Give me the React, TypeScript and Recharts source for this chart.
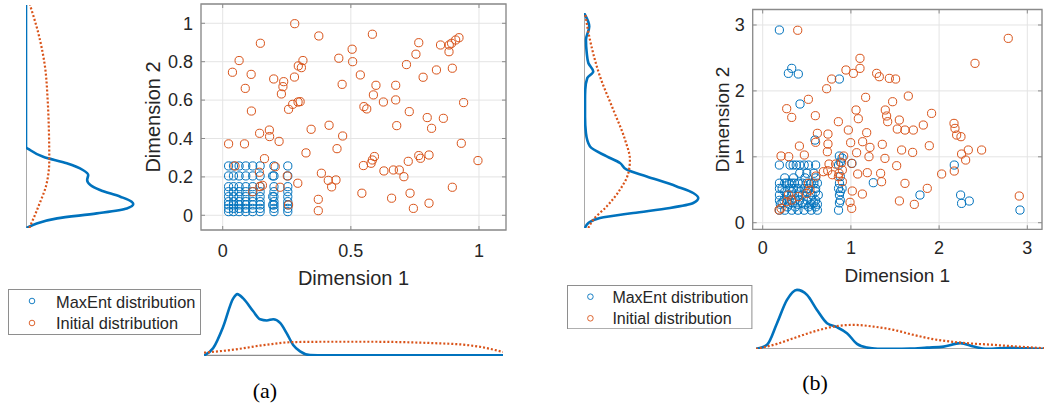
import React from 'react';
import {
  ScatterChart, Scatter, LineChart, Line, XAxis, YAxis, CartesianGrid,
  ReferenceLine, ReferenceArea, Legend, Label,
} from 'recharts';

const BLUE = '#0072BD';
const ORANGE = '#D95319';
const INK = '#262626';
const BOX = '#8a8a8a';
const FONT = '"Liberation Sans", Arial, Helvetica, sans-serif';
const SERIF = '"Liberation Serif", "Times New Roman", serif';

const SERIES_NAMES = ['MaxEnt distribution', 'Initial distribution'];
const AXIS_LABELS = ['Dimension 1', 'Dimension 2'];
const PANEL_CAPTIONS = ['(a)', '(b)'];

// ---------- Panel (a): scatter points [dim1, dim2] ----------
const aMaxEnt: [number, number][] = [
  [0.023, 0.257], [0.042, 0.257], [0.064, 0.257], [0.09, 0.257], [0.117, 0.257], [0.146, 0.257], [0.2, 0.257], [0.254, 0.257],
  [0.023, 0.205], [0.042, 0.205], [0.064, 0.205], [0.09, 0.205], [0.117, 0.205], [0.146, 0.205], [0.2, 0.205], [0.254, 0.205],
  [0.023, 0.149], [0.042, 0.149], [0.064, 0.149], [0.09, 0.149], [0.117, 0.149], [0.146, 0.149], [0.2, 0.149], [0.254, 0.149],
  [0.023, 0.123], [0.042, 0.123], [0.064, 0.123], [0.09, 0.123], [0.117, 0.123], [0.146, 0.123], [0.2, 0.123], [0.254, 0.123],
  [0.023, 0.097], [0.042, 0.097], [0.064, 0.097], [0.09, 0.097], [0.117, 0.097], [0.146, 0.097], [0.2, 0.097], [0.254, 0.097],
  [0.023, 0.071], [0.042, 0.071], [0.064, 0.071], [0.09, 0.071], [0.117, 0.071], [0.146, 0.071], [0.2, 0.071], [0.254, 0.071],
  [0.023, 0.054], [0.042, 0.054], [0.064, 0.054], [0.09, 0.054], [0.117, 0.054], [0.146, 0.054], [0.2, 0.054], [0.254, 0.054],
  [0.023, 0.036], [0.042, 0.036], [0.064, 0.036], [0.09, 0.036], [0.117, 0.036], [0.146, 0.036], [0.2, 0.036], [0.254, 0.036],
  [0.023, 0.019], [0.042, 0.019], [0.064, 0.019], [0.09, 0.019], [0.117, 0.019], [0.146, 0.019], [0.2, 0.019], [0.254, 0.019],
  [0.195, 0.205], [0.195, 0.097], [0.195, 0.054],
];

const aInitial: [number, number][] = [
  [0.023, 0.372], [0.038, 0.745], [0.064, 0.806], [0.088, 0.661], [0.111, 0.734], [0.112, 0.543], [0.085, 0.372],
  [0.147, 0.896], [0.144, 0.427], [0.182, 0.444], [0.183, 0.41], [0.163, 0.295], [0.199, 0.71], [0.238, 0.696],
  [0.235, 0.67], [0.229, 0.632], [0.22, 0.385], [0.281, 0.998], [0.28, 0.72], [0.295, 0.778], [0.313, 0.806],
  [0.307, 0.769], [0.273, 0.578], [0.257, 0.552], [0.294, 0.59], [0.302, 0.592], [0.293, 0.167], [0.325, 0.325],
  [0.345, 0.448], [0.375, 0.934], [0.385, 0.219], [0.373, 0.083], [0.373, 0.024], [0.412, 0.182], [0.425, 0.148],
  [0.442, 0.184], [0.446, 0.347], [0.415, 0.469], [0.468, 0.413], [0.453, 0.818], [0.466, 0.682], [0.505, 0.865],
  [0.507, 0.8], [0.537, 0.731], [0.551, 0.566], [0.562, 0.554], [0.584, 0.943], [0.598, 0.677], [0.588, 0.627],
  [0.627, 0.59], [0.675, 0.677], [0.675, 0.601], [0.679, 0.467], [0.717, 0.785], [0.754, 0.839], [0.765, 0.899],
  [0.782, 0.719], [0.728, 0.54], [0.798, 0.509], [0.815, 0.453], [0.834, 0.757], [0.85, 0.887], [0.884, 0.887],
  [0.893, 0.896], [0.883, 0.852], [0.909, 0.913], [0.922, 0.925], [0.896, 0.766], [0.861, 0.505], [0.94, 0.587],
  [0.931, 0.375], [0.996, 0.285], [0.896, 0.146], [0.805, 0.063], [0.744, 0.036], [0.731, 0.115], [0.659, 0.089],
  [0.724, 0.281], [0.689, 0.236], [0.666, 0.236], [0.707, 0.201], [0.629, 0.231], [0.765, 0.311], [0.772, 0.297],
  [0.805, 0.314], [0.592, 0.306], [0.584, 0.288], [0.579, 0.271], [0.549, 0.259], [0.543, 0.115],
  [0.048, 0.257], [0.143, 0.224], [0.205, 0.253], [0.252, 0.205], [0.145, 0.15], [0.155, 0.156], [0.117, 0.123],
  [0.224, 0.146], [0.257, 0.054],
];

// ---------- Panel (a): marginal densities (relative units) ----------
const aDim1MaxEnt: [number, number][] = [
  [-0.073, 0], [-0.037, 0.12], [0.002, 0.47], [0.041, 0.93], [0.057, 1.0], [0.08, 0.93], [0.119, 0.72], [0.146, 0.59],
  [0.172, 0.57], [0.197, 0.59], [0.224, 0.53], [0.25, 0.36], [0.275, 0.17], [0.302, 0.065], [0.341, 0.005], [0.4, 0],
  [0.6, 0], [0.8, 0], [1.0, 0], [1.094, 0],
];
const aDim1Initial: [number, number][] = [
  [-0.073, 0.044], [0.041, 0.093], [0.172, 0.175], [0.275, 0.217], [0.432, 0.223], [0.562, 0.223], [0.692, 0.217],
  [0.822, 0.2], [0.952, 0.17], [1.017, 0.13], [1.094, 0.055],
];
const aDim2MaxEnt: [number, number][] = [
  [-0.066, 0.006], [-0.042, 0.1], [-0.016, 0.29], [0.01, 0.66], [0.036, 0.94], [0.059, 1.0], [0.071, 0.985],
  [0.097, 0.88], [0.132, 0.69], [0.158, 0.6], [0.184, 0.57], [0.21, 0.58], [0.236, 0.53], [0.271, 0.38],
  [0.305, 0.16], [0.34, 0.037], [0.357, 0], [0.45, 0], [0.7, 0], [0.9, 0], [1.095, 0],
];
const aDim2Initial: [number, number][] = [
  [-0.066, 0.031], [0.045, 0.115], [0.167, 0.193], [0.288, 0.217], [0.427, 0.214], [0.6, 0.202], [0.774, 0.177],
  [0.948, 0.115], [1.095, 0.037],
];

// ---------- Panel (b): scatter points ----------
const bMaxEnt: [number, number][] = [
  [0.189, 2.924], [0.329, 2.342], [0.291, 2.266], [0.404, 2.256], [0.869, 2.18], [0.423, 1.801], [0.593, 1.254],
  [1.012, 0.9], [0.869, 1.012], [1.254, 0.607], [1.783, 0.42], [2.172, 0.875], [2.244, 0.42], [2.255, 0.293],
  [2.342, 0.329], [2.917, 0.192],
  [0.189, 0.875], [0.31, 0.875], [0.345, 0.875], [0.38, 0.875], [0.42, 0.875], [0.47, 0.875], [0.52, 0.875], [0.6, 0.875], [0.86, 0.875],
  [0.88, 0.92], [0.9, 0.98],
  [0.42, 0.75], [0.5, 0.75], [0.58, 0.75],
  [0.25, 0.68], [0.35, 0.68], [0.48, 0.68], [0.6, 0.68], [0.88, 0.7],
  [0.19, 0.6], [0.25, 0.6], [0.27, 0.6], [0.3, 0.6], [0.33, 0.6], [0.36, 0.6], [0.4, 0.6], [0.45, 0.6], [0.5, 0.6], [0.55, 0.6], [0.58, 0.6], [0.62, 0.6], [0.87, 0.6],
  [0.19, 0.52], [0.22, 0.52], [0.3, 0.52], [0.35, 0.52], [0.4, 0.52], [0.47, 0.52], [0.52, 0.52], [0.6, 0.52], [0.86, 0.52], [0.9, 0.52],
  [0.25, 0.47], [0.33, 0.47], [0.42, 0.47], [0.5, 0.47], [0.6, 0.47], [0.88, 0.47],
  [0.19, 0.42], [0.27, 0.42], [0.33, 0.42], [0.4, 0.42], [0.45, 0.42], [0.56, 0.42], [0.63, 0.42], [0.87, 0.42],
  [0.19, 0.34], [0.24, 0.34], [0.3, 0.34], [0.37, 0.34], [0.42, 0.34], [0.5, 0.34], [0.55, 0.34], [0.6, 0.34], [0.88, 0.34],
  [0.22, 0.3], [0.34, 0.3], [0.45, 0.3], [0.58, 0.3], [0.87, 0.3],
  [0.2, 0.28], [0.3, 0.28], [0.4, 0.28], [0.48, 0.28], [0.55, 0.28], [0.62, 0.28],
  [0.28, 0.24], [0.37, 0.24], [0.52, 0.24], [0.6, 0.24],
  [0.19, 0.19], [0.25, 0.19], [0.33, 0.19], [0.4, 0.19], [0.47, 0.19], [0.55, 0.19], [0.62, 0.19], [0.86, 0.19],
];

const bInitial: [number, number][] = [
  [0.397, 2.92], [2.784, 2.797], [2.407, 2.418], [1.103, 2.494], [0.944, 2.317], [1.103, 2.342], [1.028, 2.266],
  [1.292, 2.266], [1.322, 2.215], [1.436, 2.19], [1.507, 2.18], [0.782, 2.18], [0.725, 2.033], [0.518, 1.872],
  [1.167, 1.902], [1.473, 1.836], [1.651, 1.922], [0.272, 1.73], [0.329, 1.598], [0.597, 1.624], [1.058, 1.71],
  [1.084, 1.578], [1.39, 1.71], [1.405, 1.619], [1.417, 1.533], [1.549, 1.558], [1.526, 1.421], [1.613, 1.406],
  [1.708, 1.406], [1.915, 1.659], [1.821, 1.482], [0.858, 1.533], [0.971, 1.406], [1.179, 1.366], [0.62, 1.356],
  [0.74, 1.345], [0.416, 1.163], [0.74, 1.194], [0.997, 1.214], [1.133, 1.229], [1.216, 1.143], [1.356, 1.189],
  [1.575, 1.103], [1.7, 1.067], [1.889, 1.168], [2.169, 1.507], [2.18, 1.431], [2.199, 1.33], [2.248, 1.305],
  [2.331, 1.103], [2.255, 1.042], [2.301, 0.951], [2.482, 1.103], [0.208, 1.012], [0.295, 1.002], [0.472, 1.027],
  [0.733, 1.077], [0.918, 1.012], [1.009, 0.9], [1.065, 1.062], [1.205, 1.002], [1.386, 0.976], [1.077, 0.739],
  [1.186, 0.759], [1.337, 0.749], [1.348, 0.622], [1.519, 0.865], [1.613, 0.597], [2.029, 0.739], [2.172, 0.784],
  [1.866, 0.521], [1.13, 0.435], [1.016, 0.481], [1.55, 0.33], [1.719, 0.278], [0.99, 0.309], [1.009, 0.218],
  [2.909, 0.405], [0.6, 1.22],
  [0.752, 0.89], [0.827, 0.89], [0.895, 0.91], [0.903, 0.799], [0.865, 0.749], [0.737, 0.789], [0.79, 0.728],
  [0.858, 0.698], [0.903, 0.622], [0.604, 0.708], [0.518, 0.597], [0.536, 0.496], [0.404, 0.395], [0.329, 0.344],
  [0.272, 0.319], [0.208, 0.218], [0.185, 0.192], [0.499, 0.445], [0.291, 0.42], [0.688, 0.774],
];

// ---------- Panel (b): marginal densities ----------
const bDim1MaxEnt: [number, number][] = [
  [-0.079, 0], [0.045, 0.068], [0.159, 0.435], [0.272, 0.83], [0.385, 1.0], [0.499, 0.915], [0.612, 0.66],
  [0.726, 0.435], [0.839, 0.368], [0.952, 0.266], [1.066, 0.085], [1.179, 0.022], [1.3, 0.003], [1.481, 0],
  [1.67, 0.005], [1.859, 0.022], [2.048, 0.039], [2.237, 0.097], [2.388, 0.039], [2.54, 0], [2.804, 0.017],
  [2.993, 0.008], [3.189, 0],
];
const bDim1Initial: [number, number][] = [
  [-0.079, 0], [0.159, 0.085], [0.347, 0.181], [0.574, 0.293], [0.8, 0.378], [1.027, 0.407], [1.254, 0.378],
  [1.481, 0.322], [1.708, 0.237], [1.934, 0.164], [2.237, 0.107], [2.615, 0.068], [2.993, 0.029], [3.189, 0.012],
];
const bDim2MaxEnt: [number, number][] = [
  [-0.085, 0.009], [-0.009, 0.038], [0.067, 0.14], [0.143, 0.431], [0.218, 0.752], [0.294, 0.956], [0.37, 1.0],
  [0.446, 0.956], [0.546, 0.811], [0.698, 0.549], [0.8, 0.374], [0.901, 0.315], [1.002, 0.199], [1.153, 0.052],
  [1.356, 0.017], [1.608, 0.009], [1.862, 0.009], [2.014, 0.011], [2.191, 0.029], [2.291, 0.081], [2.419, 0.038],
  [2.571, 0.024], [2.772, 0.017], [2.974, 0.046], [3.178, 0],
];
const bDim2Initial: [number, number][] = [
  [-0.085, 0.038], [0.04, 0.081], [0.243, 0.199], [0.496, 0.315], [0.749, 0.388], [0.951, 0.402], [1.255, 0.359],
  [1.71, 0.256], [2.215, 0.14], [2.772, 0.052], [3.178, 0.009],
];

// ---------- Tick labels ----------
const aXTicks = [0, 0.5, 1];
const aYTicks = [0, 0.2, 0.4, 0.6, 0.8, 1];
const bXTicks = [0, 1, 2, 3];
const bYTicks = [0, 1, 2, 3];

const toXY = (arr: [number, number][]) => arr.map(([x, y]) => ({ x, y }));
const toCurve = (arr: [number, number][]) => arr.map(([v, d]) => ({ v, d }));

const ring = (color: string) => (p: any) => (
  <circle cx={p.cx} cy={p.cy} r={4.1} fill="none" stroke={color} strokeWidth={1} />
);

type PanelCfg = {
  left: number; width: number; height: number;
  margin: { top: number; right: number; bottom: number; left: number };
  yAxisWidth: number; xAxisHeight: number;
  xDomain: [number, number]; yDomain: [number, number];
  xTicks: number[]; yTicks: number[];
  maxEnt: [number, number][]; initial: [number, number][];
  xTickMargin: number; tickSize: number; labelSize: number;
  yLabelX: number; xLabelY: number;
  legend: { left: number; top: number; w: number; h: number; cx: number; tx: number; cy: number[]; by: number[]; fs: number };
};

const TICK_LEN = 4;

function ScatterPanel(c: PanelCfg) {
  const lg = c.legend;
  const plotTop = c.margin.top;
  const plotBottom = c.height - c.margin.bottom - c.xAxisHeight;
  const plotLeft = c.margin.left + c.yAxisWidth;
  const plotRight = c.width - c.margin.right;

  const xTick = (p: any) => (
    <g>
      <line x1={p.x} x2={p.x} y1={plotBottom} y2={plotBottom - TICK_LEN} stroke={BOX} strokeWidth={1} />
      <line x1={p.x} x2={p.x} y1={plotTop} y2={plotTop + TICK_LEN} stroke={BOX} strokeWidth={1} />
      <text x={p.x} y={p.y} dy="0.71em" textAnchor="middle" fontSize={c.tickSize} fill={INK} fontFamily={FONT}>
        {p.payload.value}
      </text>
    </g>
  );
  const yTick = (p: any) => (
    <g>
      <line x1={plotLeft} x2={plotLeft + TICK_LEN} y1={p.y} y2={p.y} stroke={BOX} strokeWidth={1} />
      <line x1={plotRight} x2={plotRight - TICK_LEN} y1={p.y} y2={p.y} stroke={BOX} strokeWidth={1} />
      <text x={p.x} y={p.y} dy="0.355em" textAnchor="end" fontSize={c.tickSize} fill={INK} fontFamily={FONT}>
        {p.payload.value}
      </text>
    </g>
  );

  const legendContent = (props: any) => {
    const payload = [...(props.payload || [])].sort(
      (p: any, q: any) => SERIES_NAMES.indexOf(p.value) - SERIES_NAMES.indexOf(q.value),
    );
    return (
      <svg width={lg.w} height={lg.h} style={{ display: 'block' }}>
        <rect x={0.5} y={0.5} width={lg.w - 1} height={lg.h - 1} fill="#fff" stroke="#8e8e8e" strokeWidth={1} />
        {payload.map((e: any, i: number) => (
          <g key={i}>
            <circle cx={lg.cx} cy={lg.cy[i]} r={2.8} fill="none" stroke={e.color} strokeWidth={0.9} />
            <text x={lg.tx} y={lg.by[i]} fontSize={lg.fs} fill={INK} fontFamily={FONT}>{e.value}</text>
          </g>
        ))}
      </svg>
    );
  };
  return (
    <div style={{ position: 'absolute', left: c.left, top: 0 }}>
      <ScatterChart width={c.width} height={c.height} margin={c.margin}>
        <CartesianGrid stroke="#e4e4e4" strokeWidth={1} />
        <XAxis
          type="number" dataKey="x" domain={c.xDomain} ticks={c.xTicks} interval={0}
          height={c.xAxisHeight} tickLine={false} axisLine={false} tick={xTick} tickMargin={c.xTickMargin}
        >
          <Label
            content={(p: any) => {
              const vb = p.viewBox || {};
              const cx = vb.x + vb.width / 2;
              return (
                <text x={cx} y={c.xLabelY} textAnchor="middle" fontSize={c.labelSize} fill={INK} fontFamily={FONT}>
                  {AXIS_LABELS[0]}
                </text>
              );
            }}
          />
        </XAxis>
        <YAxis
          type="number" dataKey="y" domain={c.yDomain} ticks={c.yTicks} interval={0}
          width={c.yAxisWidth} tickLine={false} axisLine={false} tick={yTick}
        >
          <Label
            content={(p: any) => {
              const vb = p.viewBox || {};
              const cy = vb.y + vb.height / 2;
              return (
                <text
                  x={c.yLabelX} y={cy} transform={`rotate(-90 ${c.yLabelX} ${cy})`} textAnchor="middle"
                  dominantBaseline="central" fontSize={c.labelSize} fill={INK} fontFamily={FONT}
                >
                  {AXIS_LABELS[1]}
                </text>
              );
            }}
          />
        </YAxis>
        <Scatter name={SERIES_NAMES[0]} data={toXY(c.maxEnt)} fill={BLUE} legendType="circle" shape={ring(BLUE)} isAnimationActive={false} />
        <Scatter name={SERIES_NAMES[1]} data={toXY(c.initial)} fill={ORANGE} legendType="circle" shape={ring(ORANGE)} isAnimationActive={false} />
        <ReferenceArea
          x1={c.xDomain[0]} x2={c.xDomain[1]} y1={c.yDomain[0]} y2={c.yDomain[1]}
          fill="none" fillOpacity={0} stroke={BOX} strokeWidth={1.3}
        />
        <Legend
          layout="horizontal" verticalAlign="middle" align="center"
          wrapperStyle={{ left: lg.left, top: lg.top, width: lg.w, height: lg.h }}
          content={legendContent}
        />
      </ScatterChart>
    </div>
  );
}

type MargCfg = {
  left: number; top: number; width: number; height: number;
  domain: [number, number]; maxEnt: [number, number][]; initial: [number, number][];
};

function BottomMarginal(m: MargCfg) {
  return (
    <div style={{ position: 'absolute', left: m.left, top: m.top }}>
      <LineChart width={m.width} height={m.height} margin={{ top: 0, right: 0, bottom: 0, left: 0 }}>
        <XAxis type="number" dataKey="v" domain={m.domain} hide />
        <YAxis type="number" domain={[0, 1.1]} hide />
        <ReferenceLine y={0} stroke="#8c8c8c" strokeWidth={1.5} />
        <Line data={toCurve(m.maxEnt)} dataKey="d" type="monotoneX" stroke={BLUE} strokeWidth={2.6}
          dot={false} activeDot={false} isAnimationActive={false} />
        <Line data={toCurve(m.initial)} dataKey="d" type="monotoneX" stroke={ORANGE} strokeWidth={2.2}
          strokeDasharray="2 2" dot={false} activeDot={false} isAnimationActive={false} />
      </LineChart>
    </div>
  );
}

function LeftMarginal(m: MargCfg) {
  return (
    <div style={{ position: 'absolute', left: m.left, top: m.top }}>
      <LineChart layout="vertical" width={m.width} height={m.height} margin={{ top: 0, right: 0, bottom: 0, left: 0 }}>
        <XAxis type="number" domain={[0, 1.1]} hide />
        <YAxis type="number" dataKey="v" domain={m.domain} reversed hide />
        <ReferenceLine x={0} stroke="#8c8c8c" strokeWidth={1.5} />
        <Line data={toCurve(m.maxEnt)} dataKey="d" type="monotoneY" stroke={BLUE} strokeWidth={2.6}
          dot={false} activeDot={false} isAnimationActive={false} />
        <Line data={toCurve(m.initial)} dataKey="d" type="monotoneY" stroke={ORANGE} strokeWidth={2.2}
          strokeDasharray="2 2" dot={false} activeDot={false} isAnimationActive={false} />
      </LineChart>
    </div>
  );
}

const captionStyle = (cx: number, cy: number): React.CSSProperties => ({
  position: 'absolute', left: cx - 40, width: 80, top: cy - 13, height: 26, lineHeight: '26px',
  textAlign: 'center', fontFamily: SERIF, fontSize: 22, color: '#000',
});

export default function App() {
  return (
    <div style={{ position: 'absolute', left: 0, top: 0, width: 1044, height: 410, background: '#fff', overflow: 'hidden' }}>
      <ScatterPanel
        left={0} width={520} height={300}
        margin={{ top: 4, right: 14, bottom: 0, left: 0 }}
        yAxisWidth={201} xAxisHeight={70}
        xDomain={[-0.0847, 1.1054]} yDomain={[-0.0766, 1.1005]}
        xTicks={aXTicks} yTicks={aYTicks}
        maxEnt={aMaxEnt} initial={aInitial}
        xTickMargin={8} tickSize={18} labelSize={20}
        yLabelX={153} xLabelY={285}
        legend={{ left: 8, top: 289, w: 193, h: 46, cx: 24, tx: 48, cy: [12, 34], by: [18.5, 40], fs: 16.4 }}
      />
      <LeftMarginal left={26} top={5} width={118} height={223} domain={[-0.066, 1.095]}
        maxEnt={aDim2MaxEnt} initial={aDim2Initial} />
      <BottomMarginal left={204} top={288.3} width={299} height={67.4} domain={[-0.073, 1.094]}
        maxEnt={aDim1MaxEnt} initial={aDim1Initial} />
      <div style={captionStyle(265, 391)}>{PANEL_CAPTIONS[0]}</div>

      <ScatterPanel
        left={540} width={504} height={300}
        margin={{ top: 9.5, right: 2, bottom: 0, left: 0 }}
        yAxisWidth={212.7} xAxisHeight={70.7}
        xDomain={[-0.1134, 3.1667]} yDomain={[-0.1, 3.235]}
        xTicks={bXTicks} yTicks={bYTicks}
        maxEnt={bMaxEnt} initial={bInitial}
        xTickMargin={6} tickSize={18} labelSize={19}
        yLabelX={182.5} xLabelY={282}
        legend={{ left: 27.3, top: 285, w: 185.4, h: 44.3, cx: 23.4, tx: 45.4, cy: [11.7, 33.3], by: [18.3, 39], fs: 16 }}
      />
      <LeftMarginal left={584} top={13.3} width={125.7} height={215} domain={[-0.085, 3.178]}
        maxEnt={bDim2MaxEnt} initial={bDim2Initial} />
      <BottomMarginal left={755.7} top={284.1} width={288.3} height={64.9} domain={[-0.079, 3.189]}
        maxEnt={bDim1MaxEnt} initial={bDim1Initial} />
      <div style={captionStyle(815, 383)}>{PANEL_CAPTIONS[1]}</div>
    </div>
  );
}
